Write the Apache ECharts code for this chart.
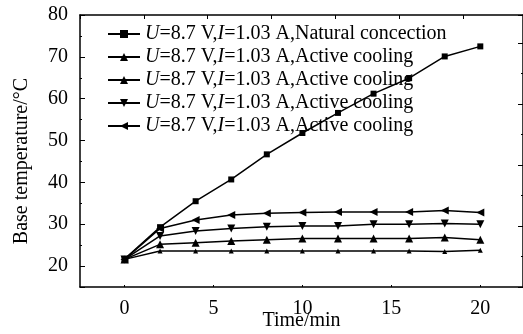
<!DOCTYPE html>
<html>
<head>
<meta charset="utf-8">
<script src="https://cdn.jsdelivr.net/npm/echarts@6/dist/echarts.min.js"></script>
<style>
  html, body { margin: 0; padding: 0; background: #fff; }
  #chart { width: 523px; height: 334px; }
</style>
</head>
<body>
<div id="chart"></div>
<script>
var time = [0, 2, 4, 6, 8, 10, 12, 14, 16, 18, 20];
var natural = [21.7, 29.3, 35.5, 40.7, 46.7, 51.8, 56.6, 61.2, 64.9, 70.1, 72.5];
var coolingA = [21.6, 23.6, 23.6, 23.6, 23.6, 23.6, 23.6, 23.6, 23.6, 23.5, 23.8];
var coolingB = [21.6, 25.2, 25.6, 26.0, 26.3, 26.6, 26.6, 26.6, 26.6, 26.8, 26.3];
var coolingC = [21.6, 27.2, 28.4, 29.0, 29.4, 29.6, 29.6, 30.0, 30.0, 30.2, 30.0];
var coolingD = [21.6, 29.0, 31.0, 32.2, 32.6, 32.8, 32.9, 32.9, 32.9, 33.3, 32.8];

var seriesNames = ['s0', 's1', 's2', 's3', 's4'];
var legendLabels = [
    '{i|U}=8.7 V,{i|I}=1.03 A,Natural concection',
    '{i|U}=8.7 V,{i|I}=1.03 A,Active cooling',
    '{i|U}=8.7 V,{i|I}=1.03 A,Active cooling',
    '{i|U}=8.7 V,{i|I}=1.03 A,Active cooling',
    '{i|U}=8.7 V,{i|I}=1.03 A,Active cooling'
];

var serif = 'Liberation Serif';

function pairs(ys) {
    return time.map(function (t, i) { return [t, ys[i]]; });
}

function line(name, ys, symbol, size, rotate) {
    return {
        name: name,
        type: 'line',
        data: pairs(ys),
        symbol: symbol,
        symbolSize: size,
        symbolRotate: rotate,
        lineStyle: { color: '#000', width: 1.5 },
        itemStyle: { color: '#000' },
        xAxisIndex: 0,
        yAxisIndex: 0,
        animation: false
    };
}

var option = {
    backgroundColor: '#fff',
    grid: { left: 80, right: 0, top: 15, bottom: 47, outerBoundsMode: 'none', containLabel: false },
    legend: {
        orient: 'vertical',
        left: 102,
        top: 19,
        itemWidth: 32,
        itemHeight: 10,
        itemGap: 3,
        data: seriesNames,
        formatter: function (name) {
            return legendLabels[seriesNames.indexOf(name)];
        },
        textStyle: {
            fontFamily: serif, fontSize: 20, lineHeight: 20, color: '#000',
            rich: {
                i: { fontFamily: serif, fontSize: 20, fontStyle: 'italic', color: '#000' }
            }
        }
    },
    xAxis: [
        {
            type: 'value',
            min: -2.5,
            max: 22.4,
            name: 'Time/min',
            nameLocation: 'middle',
            nameGap: 24,
            nameMoveOverlap: false,
            nameTextStyle: { fontFamily: serif, fontSize: 20, color: '#000' },
            axisLine: { onZero: false, lineStyle: { color: '#000', width: 1.5 } },
            axisTick: { inside: true, length: 2, lineStyle: { color: '#000' } },
            axisLabel: {
                showMinLabel: false, showMaxLabel: false, margin: 12,
                fontFamily: serif, fontSize: 20, color: '#000'
            },
            splitLine: { show: false }
        },
        {
            type: 'value',
            position: 'top',
            min: 0,
            max: 6.94,
            interval: 1,
            axisLine: { onZero: false, lineStyle: { color: '#000', width: 1.5 } },
            axisTick: { inside: true, length: 4, lineStyle: { color: '#000' } },
            axisLabel: { show: false },
            splitLine: { show: false }
        }
    ],
    yAxis: [
        {
            type: 'value',
            min: 15,
            max: 80,
            name: 'Base temperature/°C',
            nameLocation: 'middle',
            nameGap: 48,
            nameMoveOverlap: false,
            nameTextStyle: { fontFamily: serif, fontSize: 20, color: '#000', padding: [0, 20, 0, 0] },
            axisLine: { onZero: false, lineStyle: { color: '#000', width: 1.5 } },
            axisTick: { inside: true, length: 5, lineStyle: { color: '#000' } },
            minorTick: { show: true, splitNumber: 2, length: 2, lineStyle: { color: '#000' } },
            axisLabel: {
                showMinLabel: false, margin: 12,
                fontFamily: serif, fontSize: 20, color: '#000'
            },
            splitLine: { show: false }
        },
        {
            type: 'value',
            position: 'right',
            min: 0,
            max: 8.92,
            interval: 2,
            axisLine: { show: true, onZero: false, lineStyle: { color: '#000', width: 1.5 } },
            axisTick: { inside: true, length: 5, lineStyle: { color: '#000' } },
            minorTick: { show: true, splitNumber: 2, length: 2, lineStyle: { color: '#000' } },
            axisLabel: { show: false },
            splitLine: { show: false }
        }
    ],
    series: [
        line(seriesNames[0], natural, 'rect', 6, 0),
        line(seriesNames[1], coolingA, 'triangle', 5, 0),
        line(seriesNames[2], coolingB, 'triangle', 8, 0),
        line(seriesNames[3], coolingC, 'triangle', 8, 180),
        line(seriesNames[4], coolingD, 'triangle', 8, 90)
    ]
};

var myChart = echarts.init(document.getElementById('chart'));
myChart.setOption(option);
</script>
</body>
</html>
